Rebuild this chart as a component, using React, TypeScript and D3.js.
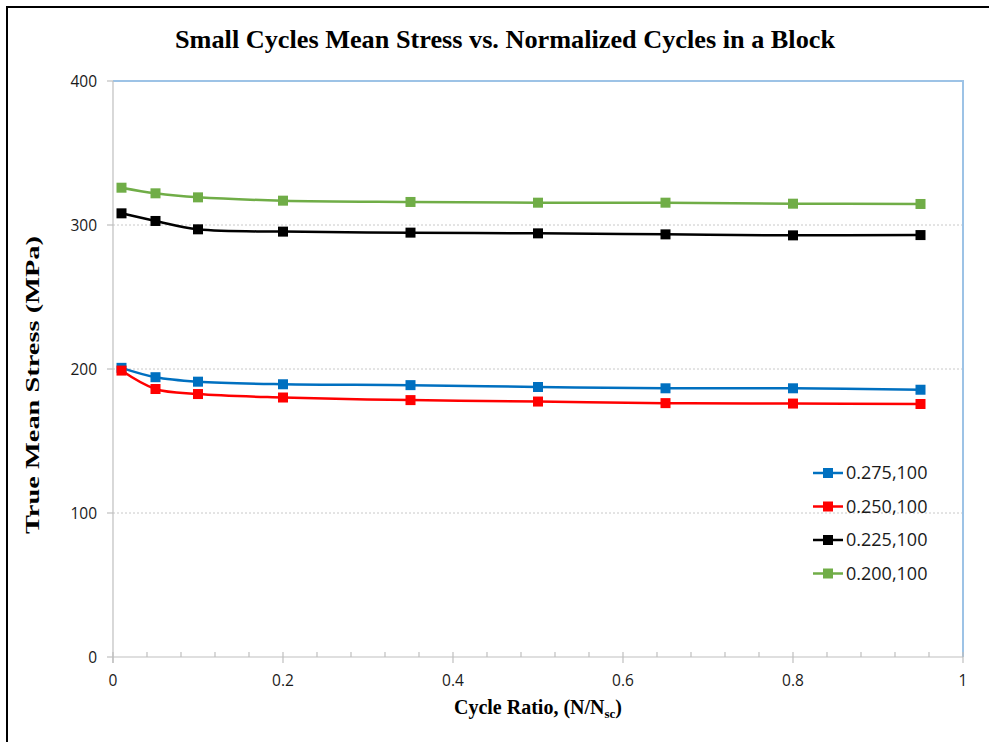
import React from "react";
import * as d3 from "d3";

const xValues = [0.01, 0.05, 0.1, 0.2, 0.35, 0.5, 0.65, 0.8, 0.95];
const s275 = [200.8, 194.3, 191.2, 189.4, 188.8, 187.5, 186.6, 186.6, 185.6];
const s250 = [198.9, 186.1, 182.6, 180.2, 178.4, 177.4, 176.3, 176.0, 175.7];
const s225 = [308.1, 302.8, 297.0, 295.4, 294.7, 294.2, 293.5, 292.8, 293.0];
const s200 = [325.9, 322.0, 319.2, 316.9, 316.0, 315.5, 315.5, 314.8, 314.6];

const seriesNames = ["0.275,100", "0.250,100", "0.225,100", "0.200,100"];
const seriesColors = ["#0070C0", "#FF0000", "#000000", "#70AD47"];
const seriesData = [s275, s250, s225, s200];

const xTicks = [0, 0.2, 0.4, 0.6, 0.8, 1];
const xTickLabels = ["0", "0.2", "0.4", "0.6", "0.8", "1"];
const yTicks = [0, 100, 200, 300, 400];
const yTickLabels = ["0", "100", "200", "300", "400"];

const title = "Small Cycles Mean Stress vs. Normalized Cycles in a Block";
const yTitle = "True Mean Stress (MPa)";

export default function App() {
  const W = 989, H = 742;
  const L = 113, R = 963, T = 81, B = 657;
  const x = d3.scaleLinear().domain([0, 1]).range([L, R]);
  const y = d3.scaleLinear().domain([0, 400]).range([B, T]);
  const line = d3
    .line<number>()
    .x((_, i) => x(xValues[i]))
    .y((d) => y(d))
    .curve(d3.curveCatmullRom.alpha(0.5));
  const minor = d3.range(0, 1.0001, 0.04).filter((v) => Math.abs(v / 0.2 - Math.round(v / 0.2)) > 1e-6);
  const tickFont = "'Open Sans', 'Noto Sans', sans-serif";
  const serif = "'Liberation Serif', 'Times New Roman', serif";
  const legendY0 = 473, legendDy = 33.5;
  const ms = 10;
  return (
    <svg width={W} height={H} style={{ position: "absolute", left: 0, top: 0, background: "#fff" }}>
      <rect x={0} y={0} width={W} height={H} fill="#fff" />
      <rect x={7} y={7} width={W + 20} height={H + 20} fill="none" stroke="#000" strokeWidth={2} />
      <text x={505} y={48} textAnchor="middle" fontFamily={serif} fontWeight="bold" fontSize={26} textLength={660} lengthAdjust="spacingAndGlyphs">
        {title}
      </text>
      {/* gridlines */}
      {yTicks.filter((v) => v > 0 && v < 400).map((v) => (
        <line key={"g" + v} x1={L} x2={R} y1={y(v)} y2={y(v)} stroke="#C8C8C8" strokeWidth={1} strokeDasharray="2,2" />
      ))}
      {/* top & right border */}
      <line x1={L} x2={R + 1} y1={T} y2={T} stroke="#9DC3E6" strokeWidth={2} />
      <line x1={R} x2={R} y1={T} y2={B} stroke="#9DC3E6" strokeWidth={2} />
      {/* axes */}
      <line x1={L} x2={L} y1={T} y2={B + 6} stroke="#BFBFBF" strokeWidth={1.2} />
      <line x1={L} x2={R} y1={B} y2={B} stroke="#BFBFBF" strokeWidth={1.2} />
      {yTicks.map((v, i) => (
        <g key={"yt" + v}>
          <line x1={L - 6} x2={L} y1={y(v)} y2={y(v)} stroke="#BFBFBF" strokeWidth={1.2} />
          <text x={97} y={y(v)} dy="0.36em" textAnchor="end" fontFamily={tickFont} fontSize={15.5} fill="#1a1a1a">
            {yTickLabels[i]}
          </text>
        </g>
      ))}
      {xTicks.map((v, i) => (
        <g key={"xt" + v}>
          <line x1={x(v)} x2={x(v)} y1={B - 5} y2={B + 6} stroke="#BFBFBF" strokeWidth={1.2} />
          <text x={x(v)} y={686} textAnchor="middle" fontFamily={tickFont} fontSize={15.5} fill="#1a1a1a">
            {xTickLabels[i]}
          </text>
        </g>
      ))}
      {minor.map((v) => (
        <line key={"m" + v} x1={x(v)} x2={x(v)} y1={B - 5} y2={B} stroke="#BFBFBF" strokeWidth={1.2} />
      ))}
      {/* axis titles */}
      <text x={538} y={714} textAnchor="middle" fontFamily={serif} fontWeight="bold" fontSize={20}>
        Cycle Ratio, (N/N<tspan fontSize={13} dy={4}>sc</tspan><tspan dy={-4}>)</tspan>
      </text>
      <text transform={`translate(39,385) rotate(-90)`} textAnchor="middle" fontFamily={serif} fontWeight="bold" fontSize={19} textLength={298} lengthAdjust="spacingAndGlyphs">
        {yTitle}
      </text>
      {/* series */}
      {seriesData.map((s, k) => (
        <g key={"s" + k}>
          <path d={line(s) || ""} fill="none" stroke={seriesColors[k]} strokeWidth={2.5} />
          {s.map((v, i) => (
            <rect key={i} x={x(xValues[i]) - ms / 2} y={y(v) - ms / 2} width={ms} height={ms} fill={seriesColors[k]} />
          ))}
        </g>
      ))}
      {/* legend */}
      {seriesNames.map((n, k) => {
        const ly = legendY0 + k * legendDy;
        return (
          <g key={"l" + k}>
            <line x1={813} x2={843} y1={ly} y2={ly} stroke={seriesColors[k]} strokeWidth={2.5} />
            <rect x={828 - ms / 2} y={ly - ms / 2} width={ms} height={ms} fill={seriesColors[k]} />
            <text x={846} y={ly} dy="0.36em" fontFamily={tickFont} fontSize={18} fill="#1a1a1a">
              {n}
            </text>
          </g>
        );
      })}
    </svg>
  );
}
